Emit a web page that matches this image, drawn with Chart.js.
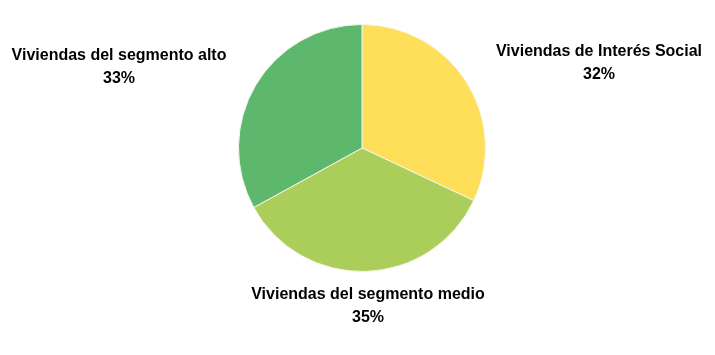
<!DOCTYPE html>
<html>
<head>
<meta charset="utf-8">
<script src="https://cdn.jsdelivr.net/npm/chart.js@4/dist/chart.umd.min.js"></script>
<style>
  html, body { margin: 0; padding: 0; background: #ffffff; }
  #wrap { width: 715px; height: 355px; position: relative; }
</style>
</head>
<body>
<div id="wrap"><canvas id="chart" width="715" height="355"></canvas></div>
<script>
// Housing segments and their share (percent)
const categories = ['Viviendas de Interés Social', 'Viviendas del segmento medio', 'Viviendas del segmento alto'];
const shares = [32, 35, 33];
const sliceColors = ['#FFDE59', '#ABCE5A', '#5DB86E'];

// Label anchor (centre of the two-line label) for each slice, in canvas pixels
const labelAnchors = [
  { x: 599, y: 52 },
  { x: 368, y: 295 },
  { x: 119, y: 56 }
];

const outsideLabels = {
  id: 'outsideLabels',
  afterDatasetsDraw(chart) {
    const ctx = chart.ctx;
    const data = chart.data.datasets[0].data;
    const total = data.reduce((a, b) => a + b, 0);
    ctx.save();
    ctx.fillStyle = '#000000';
    ctx.font = 'bold 16px "Liberation Sans", Arial, sans-serif';
    ctx.textAlign = 'center';
    ctx.textBaseline = 'middle';
    chart.getDatasetMeta(0).data.forEach((arc, i) => {
      const a = labelAnchors[i];
      const pct = Math.round(data[i] / total * 100) + '%';
      ctx.fillText(chart.data.labels[i], a.x, a.y);
      ctx.fillText(pct, a.x, a.y + 23);
    });
    ctx.restore();
  }
};

new Chart(document.getElementById('chart'), {
  type: 'pie',
  data: {
    labels: categories,
    datasets: [{
      data: shares,
      backgroundColor: sliceColors,
      borderColor: '#f4f7e8',
      borderWidth: 1
    }]
  },
  options: {
    responsive: false,
    animation: false,
    layout: { padding: { top: 24, bottom: 83, left: 9, right: 0 } },
    plugins: {
      legend: { display: false },
      tooltip: { enabled: false }
    }
  },
  plugins: [outsideLabels]
});
</script>
</body>
</html>
